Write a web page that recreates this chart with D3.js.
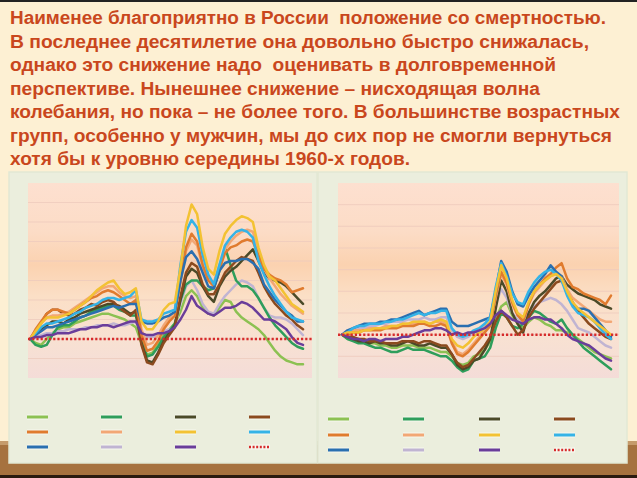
<!DOCTYPE html>
<html><head><meta charset="utf-8">
<script src="https://cdn.jsdelivr.net/npm/d3@7"></script>
<style>html,body{margin:0;padding:0;background:#fdf0d3;overflow:hidden}</style>
</head><body>
<svg id="c" width="637" height="478"></svg>
<script>
// ---------- DATA ----------
const titleLines = [
  "Наименее благоприятно в России  положение со смертностью.",
  "В последнее десятилетие она довольно быстро снижалась,",
  "однако это снижение надо  оценивать в долговременной",
  "перспективе. Нынешнее снижение – нисходящая волна",
  "колебания, но пока – не более того. В большинстве возрастных",
  "групп, особенно у мужчин, мы до сих пор не смогли вернуться",
  "хотя бы к уровню середины 1960-х годов."
];
const years = d3.range(1965, 2015);
const seriesKeys = ["lightgreen","green","darkolive","brown","orange","peach","yellow","lightblue","blue","lavender","purple"];
const seriesColors = ["#8cc152","#2e9e5b","#4b4a28","#8b4a1e","#e07b2e","#f2a775","#f3c233","#35b3e6","#2a6fb0","#c0b4d2","#6a3d9a"];
const baselineColor = "#d62b2b";

// men, % change vs 1965
const m_lightgreen = [0,-2,-3,0,3,5,6,6,8,9, 10,11,12,13,13,12,11,10,8,6, -2,-8,-7,-3,2,5,8,14,22,25, 22,16,13,12,16,20,19,14,11,9, 7,5,2,-2,-6,-9,-11,-12,-13,-13];
const m_green      = [0,-3,-4,-3,2,6,7,7,9,11, 12,14,15,16,17,17,15,14,12,12, 0,-9,-8,-4,1,4,8,20,28,30, 30,27,25,26,35,47,38,30,27,27, 25,21,16,11,7,4,1,-2,-4,-5];
const m_darkolive  = [0,3,5,7,9,9,8,10,11,13, 14,15,16,17,18,18,17,15,13,14, -2,-11,-12,-7,-1,3,7,20,32,36, 34,27,22,19,27,32,35,37,40,43, 46,40,34,31,30,29,27,24,21,18];
const m_brown      = [0,4,8,13,15,15,13,12,13,15, 16,18,17,19,20,19,16,14,12,15, -3,-12,-13,-8,-2,2,6,22,34,39, 37,28,23,23,28,34,37,40,42,41, 40,34,27,22,18,15,12,10,7,5];
const m_orange     = [0,5,9,13,15,15,14,13,15,17, 19,21,22,24,25,24,22,20,18,20, 2,-6,-5,-1,5,9,12,30,47,54, 50,38,30,27,36,44,47,48,50,51, 50,43,36,33,31,30,28,24,25,26];
const m_peach      = [0,4,8,11,12,12,13,14,16,18, 20,22,24,26,27,27,24,22,21,22, 5,-3,-2,2,7,11,14,28,45,51, 48,37,31,29,38,46,50,53,55,56, 55,45,36,31,27,23,20,17,15,13];
const m_yellow     = [0,4,8,11,11,11,12,13,15,17, 19,22,25,27,29,30,26,23,24,26, 9,5,5,9,15,18,19,36,58,69, 64,47,36,33,45,54,58,61,63,62, 60,47,38,32,30,26,22,18,16,14];
const m_lightblue  = [0,3,6,8,8,9,10,11,13,14, 16,17,18,20,21,21,20,21,22,25, 10,9,9,10,13,14,15,38,55,61, 57,43,33,28,38,48,52,55,56,55, 52,40,33,27,22,18,14,11,10,9];
const m_blue       = [0,2,4,6,6,7,8,9,10,11, 12,13,14,15,16,17,16,17,18,18, 9,8,8,9,11,12,14,30,42,45, 41,34,27,26,35,39,40,40,41,41, 39,36,28,24,20,17,14,12,9,9];
const m_lavender   = [0,1,2,3,3,4,4,5,5,5, 6,6,7,7,7,8,7,7,8,9, 3,1,1,2,4,5,7,18,27,30, 25,18,14,13,18,22,25,28,30,29, 27,21,16,12,11,11,10,8,5,2];
const m_purple     = [0,1,1,2,2,3,3,3,4,5, 5,6,6,7,7,6,7,8,9,9, 3,2,2,3,3,4,6,10,15,22, 17,15,13,12,14,16,16,17,19,18, 16,13,10,10,9,7,5,1,-2,-3];

// women, % change vs 1965
const w_lightgreen = [0,-1,-2,-3,-3,-4,-4,-5,-5,-6, -6,-5,-5,-5,-6,-6,-6,-7,-8,-8, -10,-13,-14,-13,-10,-9,-7,-3,7,13, 15,9,5,3,6,8,7,5,4,2, 2,1,0,-2,-4,-6,-8,-9,-10,-11];
const w_green      = [0,-2,-3,-4,-4,-5,-6,-6,-7,-8, -8,-7,-6,-7,-7,-7,-8,-9,-10,-10, -12,-15,-17,-16,-12,-11,-10,-6,3,10, 8,4,3,5,8,11,10,8,6,5, 7,3,0,-3,-6,-8,-10,-12,-14,-16];
const w_darkolive  = [0,-1,-2,-3,-3,-4,-3,-4,-4,-5, -5,-4,-3,-4,-5,-5,-4,-5,-6,-6, -9,-14,-16,-15,-12,-11,-7,-2,12,25, 20,10,5,1,10,15,18,20,23,26, 27,23,21,19,18,17,16,14,13,12];
const w_brown      = [0,-1,-1,-2,-2,-3,-3,-3,-4,-4, -4,-3,-3,-3,-4,-3,-3,-4,-5,-5, -9,-13,-15,-14,-11,-8,-5,-1,6,11, 8,4,0,2,8,12,15,18,21,24, 25,20,15,11,8,5,3,1,-1,-2];
const w_orange     = [0,0,1,1,2,2,2,2,3,3, 3,4,4,4,5,5,4,4,5,4, -4,-9,-10,-8,-5,-2,1,4,18,29, 24,15,9,6,14,20,23,26,28,31, 33,26,22,21,19,18,17,16,14,18];
const w_peach      = [0,1,2,2,2,3,3,3,4,4, 4,5,5,5,6,6,5,6,6,5, -3,-8,-9,-7,-4,-1,2,5,17,28, 23,14,9,7,14,19,22,25,27,28, 27,21,17,15,13,11,9,7,6,6];
const w_yellow     = [0,1,1,1,2,2,3,3,3,4, 4,5,5,6,6,6,5,6,7,6, -2,-5,-6,-4,-1,1,3,6,20,32, 26,16,10,8,15,20,23,25,27,28, 26,20,15,12,10,8,6,4,2,0];
const w_lightblue  = [0,1,3,4,4,5,5,5,6,6, 7,7,8,9,10,9,10,10,11,11, 3,0,-1,0,2,3,5,8,22,33, 27,19,15,14,20,24,27,29,30,28, 25,18,13,10,9,8,6,3,0,-2];
const w_blue       = [0,2,3,4,5,5,5,6,6,7, 7,8,9,10,11,9,10,11,12,12, 6,4,4,4,5,6,7,8,20,34, 29,20,14,13,18,22,25,28,32,29, 27,19,14,12,12,11,8,5,2,-1];
const w_lavender   = [0,1,2,3,3,4,4,5,5,6, 6,6,7,7,7,8,7,7,8,8, 2,-1,-2,-1,1,2,4,6,14,21, 17,10,7,6,10,13,15,16,17,16, 14,11,7,3,2,1,-1,-3,-5,-6];
const w_purple     = [0,-1,-2,-2,-3,-2,-2,-3,-2,-2, -2,-1,-1,0,1,2,2,3,3,2, 0,1,0,1,1,2,3,5,9,11, 9,7,6,5,7,8,8,7,7,5, 3,0,-2,-3,-4,-5,-7,-9,-11,-12];

const menSeries   = [m_lightgreen,m_green,m_darkolive,m_brown,m_orange,m_peach,m_yellow,m_lightblue,m_blue,m_lavender,m_purple];
const womenSeries = [w_lightgreen,w_green,w_darkolive,w_brown,w_orange,w_peach,w_yellow,w_lightblue,w_blue,w_lavender,w_purple];
const menDomain = [-20, 80], womenDomain = [-20, 70];
const gridStep = 10;

// ---------- DRAW ----------
const svg = d3.select("#c");
svg.append("rect").attr("x",0).attr("y",0).attr("width",637).attr("height",478).attr("fill","#fdf0d3");
svg.append("rect").attr("x",0).attr("y",0).attr("width",637).attr("height",2).attr("fill","#222");

// table (brown)
svg.append("rect").attr("x",0).attr("y",441).attr("width",637).attr("height",37).attr("fill","#a6723f");
svg.append("rect").attr("x",0).attr("y",441).attr("width",637).attr("height",4).attr("fill","#c59b6b");
svg.append("rect").attr("x",0).attr("y",475).attr("width",637).attr("height",3).attr("fill","#2a1b10");

// title
const title = svg.append("g").attr("font-family","'Liberation Sans', Arial, sans-serif")
  .attr("font-weight","bold").attr("font-size",18).attr("fill","#c9471d");
const lineEnds = [606, 589, 556, 540, 620, 612, 410];
titleLines.forEach((t,i)=>{
  title.append("text").attr("x",10).attr("y",24 + i*23.5)
    .style("white-space","pre")
    .attr("textLength", lineEnds[i]-10).attr("lengthAdjust","spacingAndGlyphs")
    .text(t);
});

const defs = svg.append("defs");
const grad = defs.append("linearGradient").attr("id","pbg").attr("x1",0).attr("y1",0).attr("x2",0).attr("y2",1);
[[0,"#fde0d0"],[0.25,"#fcdcc6"],[0.42,"#fbd2b0"],[0.58,"#fbdfc6"],[0.8,"#f8e1d2"],[1,"#f4dcd8"]]
  .forEach(([o,c])=>grad.append("stop").attr("offset",o).attr("stop-color",c));

function panel(cfg, series){
  const g = svg.append("g");
  g.append("rect").attr("x",cfg.px).attr("y",172).attr("width",cfg.pw).attr("height",291)
    .attr("fill","#ebeedd").attr("stroke","#e2e8d4").attr("stroke-width",1.5);
  g.append("rect").attr("x",cfg.x0).attr("y",183).attr("width",cfg.x1-cfg.x0).attr("height",195)
    .attr("fill","url(#pbg)");
  const x = d3.scaleLinear().domain([years[0], years[years.length-1]]).range(cfg.xr);
  const y = d3.scaleLinear().domain(cfg.domain).range([378,183]);
  const ticks = d3.range(cfg.domain[0]+gridStep, cfg.domain[1], gridStep);
  g.selectAll(".gl").data(ticks).enter().append("line")
    .attr("x1",cfg.x0).attr("x2",cfg.x1).attr("y1",d=>y(d)).attr("y2",d=>y(d))
    .attr("stroke","#eecbbd").attr("stroke-opacity",0.8).attr("stroke-width",1);
  const line = d3.line().x((d,i)=>x(years[i])).y(d=>y(d)).curve(d3.curveLinear);
  const order = [0,9,1,2,3,5,4,8,7,6,10];
  order.forEach(k=>{
    g.append("path").attr("d",line(series[k])).attr("fill","none")
      .attr("stroke",seriesColors[k]).attr("stroke-width",2.5)
      .attr("stroke-linejoin","round").attr("stroke-linecap","round");
  });
  g.append("line").attr("x1",cfg.x0).attr("x2",cfg.x1).attr("y1",y(0)).attr("y2",y(0))
    .attr("stroke",baselineColor).attr("stroke-width",2.5).attr("stroke-dasharray","2.2,2");
  // legend
  const items = seriesColors.map((c,i)=>({c, dash:false})).concat([{c:baselineColor,dash:true}]);
  items.forEach((it,i)=>{
    const col = i%4, row = Math.floor(i/4);
    const lx = cfg.lx[col], ly = cfg.ly[row];
    g.append("line").attr("x1",lx).attr("x2",lx+21).attr("y1",ly).attr("y2",ly)
      .attr("stroke","#f6f8ee").attr("stroke-width",5);
    g.append("line").attr("x1",lx).attr("x2",lx+21).attr("y1",ly).attr("y2",ly)
      .attr("stroke",it.c).attr("stroke-width",it.dash?2.5:3)
      .attr("stroke-dasharray",it.dash?"2,1.6":null);
  });
}
panel({px:9,pw:308,x0:28,x1:312,xr:[30,303],domain:menDomain,
       lx:[27,101,175,249],ly:[417,432,447]}, menSeries);
panel({px:318,pw:309,x0:338,x1:619,xr:[342,611],domain:womenDomain,
       lx:[328,403,479,554],ly:[419,435,450]}, womenSeries);
</script>
</body></html>
